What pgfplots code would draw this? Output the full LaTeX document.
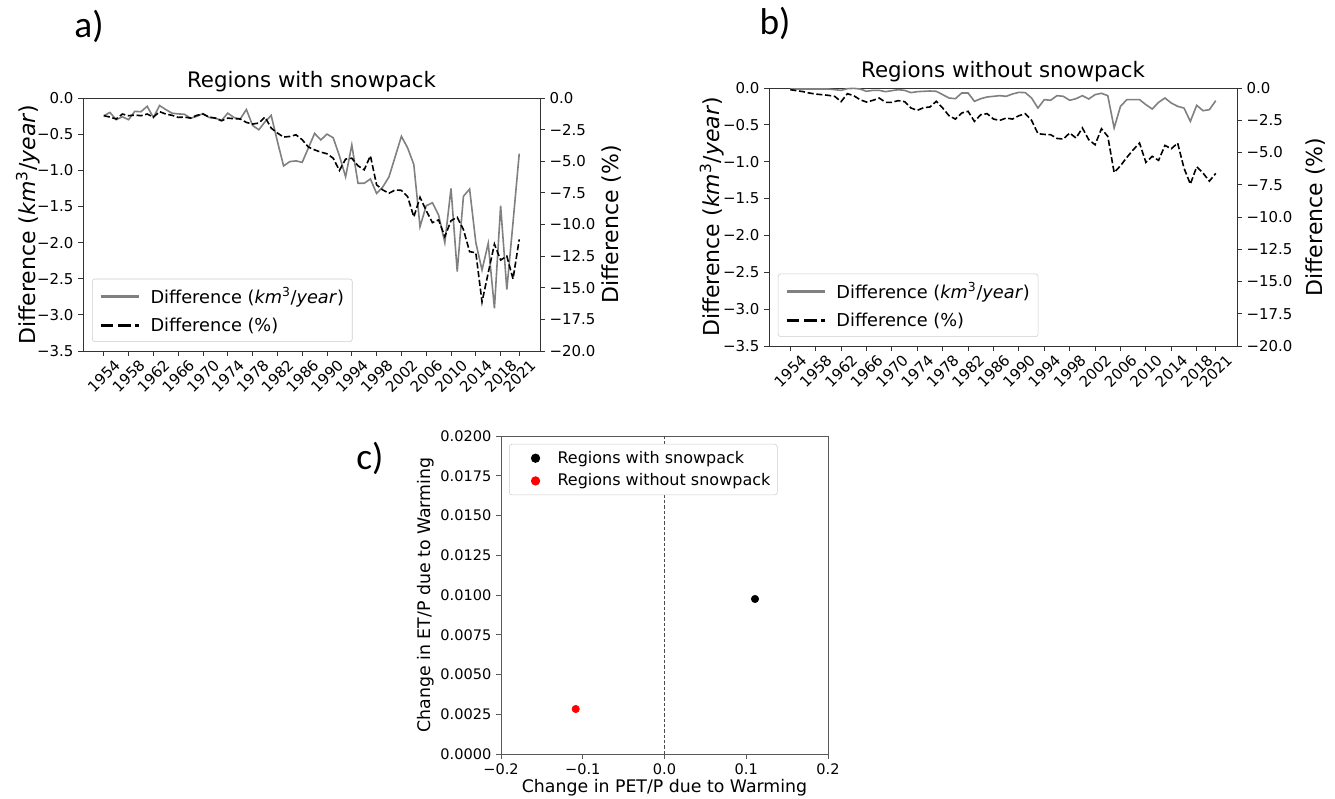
\documentclass[border=0pt]{standalone}
\usepackage{fontspec}
\setmainfont{DejaVu Sans}
\newfontfamily\carlito{Carlito}
\usepackage{pgfplots}
\usepackage{pgfplotstable}
\pgfplotsset{compat=1.18}

\pgfplotstableread{
year akm apct bkm bpct
1954 -0.245 -1.40 -0.014 -0.13
1955 -0.20 -1.51 -0.014 -0.21
1956 -0.30 -1.66 -0.014 -0.28
1957 -0.26 -1.27 -0.014 -0.39
1958 -0.30 -1.40 -0.014 -0.47
1959 -0.185 -1.35 -0.014 -0.52
1960 -0.19 -1.40 -0.014 -0.57
1961 -0.115 -1.27 -0.023 -0.65
1962 -0.27 -1.51 -0.032 -1.06
1963 -0.105 -1.08 -0.009 -0.44
1964 -0.16 -1.27 -0.005 -0.60
1965 -0.21 -1.37 -0.014 -0.91
1966 -0.22 -1.53 -0.045 -1.09
1967 -0.225 -1.51 -0.032 -0.96
1968 -0.28 -1.59 -0.032 -0.78
1969 -0.255 -1.37 -0.050 -1.11
1970 -0.215 -1.27 -0.036 -1.11
1971 -0.27 -1.51 -0.023 -0.98
1972 -0.28 -1.59 -0.032 -1.06
1973 -0.31 -1.80 -0.063 -1.55
1974 -0.21 -1.59 -0.050 -1.73
1975 -0.27 -1.64 -0.045 -1.53
1976 -0.29 -1.66 -0.041 -1.47
1977 -0.16 -1.93 -0.045 -1.03
1978 -0.38 -2.06 -0.090 -1.55
1979 -0.44 -1.98 -0.136 -2.15
1980 -0.33 -1.51 -0.145 -2.41
1981 -0.24 -2.38 -0.068 -1.94
1982 -0.60 -2.77 -0.068 -1.81
1983 -0.94 -3.09 -0.181 -2.59
1984 -0.88 -3.04 -0.145 -2.07
1985 -0.87 -2.91 -0.122 -1.99
1986 -0.89 -3.30 -0.113 -2.41
1987 -0.69 -3.88 -0.104 -2.51
1988 -0.49 -4.10 -0.113 -2.33
1989 -0.58 -4.28 -0.081 -2.41
1990 -0.50 -4.41 -0.059 -2.15
1991 -0.55 -4.76 -0.063 -1.99
1992 -0.80 -5.73 -0.136 -2.51
1993 -1.09 -4.83 -0.272 -3.54
1994 -0.65 -4.76 -0.158 -3.60
1995 -1.18 -5.36 -0.167 -3.62
1996 -1.18 -5.68 -0.104 -3.91
1997 -1.12 -4.57 -0.113 -3.96
1998 -1.32 -6.87 -0.167 -3.49
1999 -1.23 -7.27 -0.145 -3.88
2000 -1.09 -7.53 -0.104 -3.10
2001 -0.81 -7.27 -0.149 -4.01
2002 -0.53 -7.30 -0.090 -4.40
2003 -0.69 -7.80 -0.072 -3.16
2004 -0.92 -9.40 -0.104 -3.75
2005 -1.78 -7.85 -0.543 -6.55
2006 -1.49 -8.90 -0.249 -6.03
2007 -1.45 -9.85 -0.158 -5.38
2008 -1.62 -9.64 -0.158 -4.79
2009 -2.00 -10.96 -0.158 -4.27
2010 -1.25 -9.70 -0.226 -5.77
2011 -2.40 -9.43 -0.285 -5.30
2012 -1.36 -10.40 -0.195 -5.61
2013 -1.26 -12.15 -0.136 -4.45
2014 -2.00 -12.23 -0.204 -4.71
2015 -2.38 -16.12 -0.249 -4.27
2016 -2.01 -13.82 -0.272 -6.21
2017 -2.91 -11.55 -0.453 -7.45
2018 -1.49 -12.81 -0.235 -6.11
2019 -2.65 -12.50 -0.308 -6.60
2020 -1.72 -14.30 -0.294 -7.22
2021 -0.77 -11.18 -0.172 -6.62
}\datatable

\pgfplotsset{
  common/.style={
    scale only axis, anchor=south west,
    xmin=1950.65, xmax=2024.35,
    tick align=outside, major tick length=3.75pt,
    axis line style={black!80},
    every tick/.style={black!80, line width=0.6pt},
    tick label style={font=\fontsize{11.2}{12}\selectfont},
    xtick={1954,1958,1962,1966,1970,1974,1978,1982,1986,1990,1994,1998,2002,2006,2010,2014,2018,2021},
    xticklabels={1954,1958,1962,1966,1970,1974,1978,1982,1986,1990,1994,1998,2002,2006,2010,2014,2018,2021},
    xticklabel style={anchor=center, yshift=-15pt, rotate=45},
  },
  leftax/.style={
    common, ymin=-3.5, ymax=0,
    ytick={-3.5,-3.0,-2.5,-2.0,-1.5,-1.0,-0.5,0.0},
    yticklabels={−3.5,−3.0,−2.5,−2.0,−1.5,−1.0,−0.5,0.0},
    xtick pos=left, ytick pos=left,
    ylabel={Difference (\textit{km}\textsuperscript{3}/\textit{year})},
    title style={at={(0.5,1)}, anchor=base, yshift=1.8pt, font=\fontsize{16}{18}\selectfont},
  },
  rightax/.style={
    common, axis x line=none, axis y line*=right,
    ymin=-20, ymax=0,
    ytick={-20,-17.5,-15,-12.5,-10,-7.5,-5,-2.5,0},
    yticklabels={−20.0,−17.5,−15.0,−12.5,−10.0,−7.5,−5.0,−2.5,0.0},
    ylabel={Difference (\%)},
    legend cell align=left,
    legend image code/.code={\draw[#1] (0pt,0pt) -- (29pt,0pt);},
    legend style={anchor=south west, draw=black!20, rounded corners=2pt, fill=white,
      font=\fontsize{13.3}{15}\selectfont, inner sep=5pt, row sep=7pt,
      nodes={inner sep=1.2pt},
      /tikz/every odd column/.append style={column sep=6pt}},
  },
}

\begin{document}
\begin{tikzpicture}
\useasboundingbox (0,0) rectangle (1001.25pt,599.25pt);

% ---------- panel a ----------
\begin{axis}[leftax, at={(62.25pt,336pt)}, width=342.75pt, height=189.75pt,
  title={Regions with snowpack},
  ylabel style={at={(axis description cs:-0.12,0.5)}, anchor=center, font=\fontsize{16.5}{18}\selectfont}]
\addplot[gray, line width=1.2pt] table[x=year, y=akm]{\datatable};
\end{axis}
\begin{axis}[rightax, at={(62.25pt,336pt)}, width=342.75pt, height=189.75pt,
  ylabel style={at={(axis description cs:1.1575,0.5)}, anchor=center, font=\fontsize{16.5}{18}\selectfont},
  legend style={at={(0.0197,0.0356)}}]
\addlegendimage{gray, line width=2.5pt}
\addlegendentry{Difference (\textit{km}\textsuperscript{3}/\textit{year})}
\addlegendimage{black, line width=2.5pt, dash pattern=on 9.5pt off 3.5pt}
\addlegendentry{Difference (\%)}
\addplot[black, line width=1.2pt, dash pattern=on 4.6pt off 2pt, forget plot] table[x=year, y=apct]{\datatable};
\end{axis}

% ---------- panel b ----------
\begin{axis}[leftax, at={(576.75pt,339.75pt)}, width=351pt, height=193.5pt,
  title={Regions without snowpack},
  ylabel style={at={(axis description cs:-0.122,0.5)}, anchor=center, font=\fontsize{16.5}{18}\selectfont}]
\addplot[gray, line width=1.2pt] table[x=year, y=bkm]{\datatable};
\end{axis}
\begin{axis}[rightax, at={(576.75pt,339.75pt)}, width=351pt, height=193.5pt,
  ylabel style={at={(axis description cs:1.167,0.5)}, anchor=center, font=\fontsize{16.5}{18}\selectfont},
  legend style={at={(0.019,0.035)}}]
\addlegendimage{gray, line width=2.5pt}
\addlegendentry{Difference (\textit{km}\textsuperscript{3}/\textit{year})}
\addlegendimage{black, line width=2.5pt, dash pattern=on 9.5pt off 3.5pt}
\addlegendentry{Difference (\%)}
\addplot[black, line width=1.2pt, dash pattern=on 4.6pt off 2pt, forget plot] table[x=year, y=bpct]{\datatable};
\end{axis}

% ---------- panel c ----------
\begin{axis}[scale only axis, anchor=south west, at={(375.75pt,33.75pt)}, width=245.25pt, height=238.5pt,
  xmin=-0.2, xmax=0.2, ymin=0, ymax=0.02, scaled ticks=false,
  tick align=outside, major tick length=3.75pt,
  axis line style={black!65}, every tick/.style={black!65, line width=0.6pt},
  tick label style={font=\fontsize{10.9}{12}\selectfont},
  xtick={-0.2,-0.1,0,0.1,0.2}, xticklabels={−0.2,−0.1,0.0,0.1,0.2},
  ytick={0,0.0025,0.005,0.0075,0.01,0.0125,0.015,0.0175,0.02},
  yticklabels={0.0000,0.0025,0.0050,0.0075,0.0100,0.0125,0.0150,0.0175,0.0200},
  xtick pos=left, ytick pos=left,
  xlabel={Change in PET/P due to Warming}, ylabel={Change in ET/P due to Warming},
  xlabel style={at={(axis description cs:0.5,-0.107)}, anchor=center, font=\fontsize{13}{15}\selectfont},
  ylabel style={at={(axis description cs:-0.229,0.5)}, anchor=center, font=\fontsize{13}{15}\selectfont},
  legend cell align=left,
  legend image code/.code={\path[draw=none, fill=none] (0pt,0pt) -- (20pt,0pt); \path[#1, draw=none] (12pt,0pt) node[circle, inner sep=0pt, minimum size=7pt, fill, draw=none] {};},
  legend style={at={(0.0245,0.975)}, anchor=north west, draw=black!20, rounded corners=2pt, fill=white,
    font=\fontsize{12}{14}\selectfont, inner sep=4pt, row sep=4pt, nodes={inner sep=1.2pt},
    /tikz/every odd column/.append style={column sep=11pt}},
]
\addplot[black!70, line width=0.7pt, dash pattern=on 2.5pt off 1.5pt, forget plot] coordinates {(0,0) (0,0.02)};
\addplot[only marks, mark=*, mark size=2.8pt, black, fill=black] coordinates {(0.1107,0.00975)};
\addlegendentry{Regions with snowpack}
\addplot[only marks, mark=*, mark size=2.8pt, red, fill=red, mark options={fill=red, draw=red}] coordinates {(-0.1086,0.00283)};
\addlegendentry{Regions without snowpack}
\end{axis}

% ---------- panel letters ----------
\node[font=\carlito\fontsize{28}{32}\selectfont] at (66.75pt,579.75pt) {a)};
\node[font=\carlito\fontsize{28}{32}\selectfont] at (581.25pt,582pt) {b)};
\node[font=\carlito\fontsize{28}{32}\selectfont] at (277.5pt,255.75pt) {c)};
\end{tikzpicture}
\end{document}
